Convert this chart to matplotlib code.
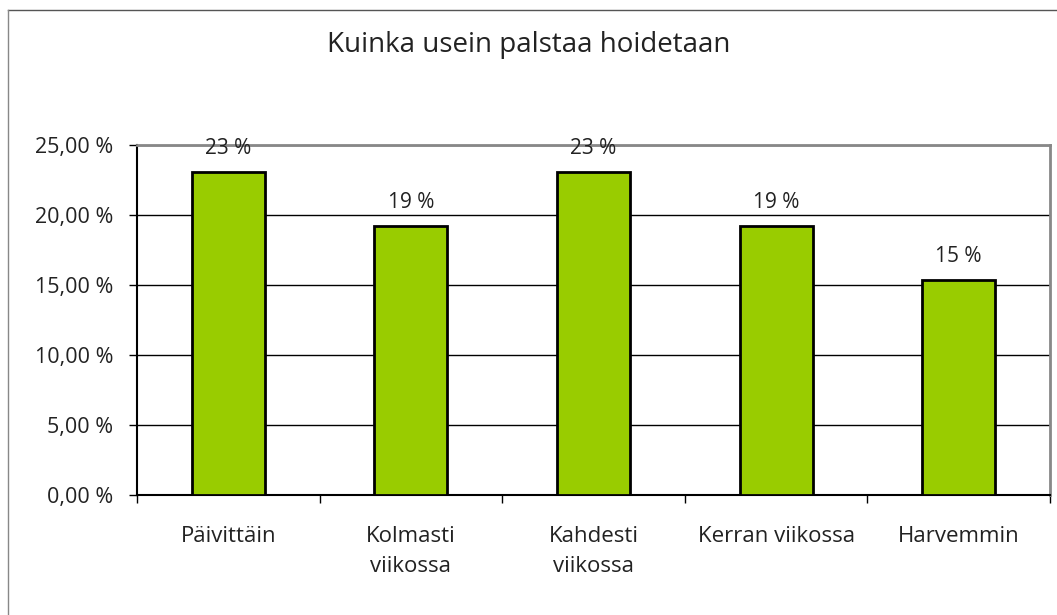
import matplotlib.pyplot as plt
from matplotlib.lines import Line2D
from matplotlib.ticker import FuncFormatter

# Data
categories = ['Päivittäin', 'Kolmasti\nviikossa', 'Kahdesti\nviikossa', 'Kerran viikossa', 'Harvemmin']
values = [23.08, 19.23, 23.08, 19.23, 15.38]
labels = ['23 %', '19 %', '23 %', '19 %', '15 %']

plt.rcParams['font.family'] = ['Open Sans', 'DejaVu Sans']

fig = plt.figure(figsize=(10.57, 6.15), dpi=100)
ax = fig.add_axes([137 / 1057, 120 / 615, 913 / 1057, 350 / 615])

x = list(range(len(categories)))
ax.bar(x, values, width=0.4, color='#99CC00', edgecolor='black', linewidth=2, zorder=3)

for xi, v, lab in zip(x, values, labels):
    ax.annotate(lab, (xi, v), xytext=(0, 9), textcoords='offset points',
                ha='center', va='bottom', fontsize=15, color='#222222')

ax.set_xlim(-0.5, len(categories) - 0.5)
ax.set_ylim(0, 25)
ax.set_yticks([0, 5, 10, 15, 20, 25])
ax.yaxis.set_major_formatter(FuncFormatter(lambda v, p: f'{v:.2f} %'.replace('.', ',')))
ax.grid(axis='y', color='black', linewidth=1, zorder=0)

ax.set_xticks(x)
ax.set_xticklabels(categories, fontsize=16, color='#222222', linespacing=1.6)
ax.set_xticks([i - 0.5 for i in range(len(categories) + 1)], minor=True)
ax.tick_params(axis='x', which='major', length=0, pad=22)
ax.tick_params(axis='x', which='minor', length=6, width=1, direction='out')
ax.tick_params(axis='y', length=6, width=1, direction='out', labelsize=15.5,
               labelcolor='#222222', pad=11)

for s in ['top', 'right']:
    ax.spines[s].set_color('#888888')
    ax.spines[s].set_linewidth(2)
for s in ['left', 'bottom']:
    ax.spines[s].set_color('black')
    ax.spines[s].set_linewidth(1.5)

fig.text(0.5, 1 - 45 / 615, 'Kuinka usein palstaa hoidetaan', ha='center', va='center',
         fontsize=20, color='#222222')

# outer chart border
fig.add_artist(Line2D([8 / 1057, 1], [1 - 10 / 615, 1 - 10 / 615], color='#555555', linewidth=1))
fig.add_artist(Line2D([8 / 1057, 8 / 1057], [0, 1 - 10 / 615], color='#888888', linewidth=1))

fig.savefig('out.png', dpi=100)
